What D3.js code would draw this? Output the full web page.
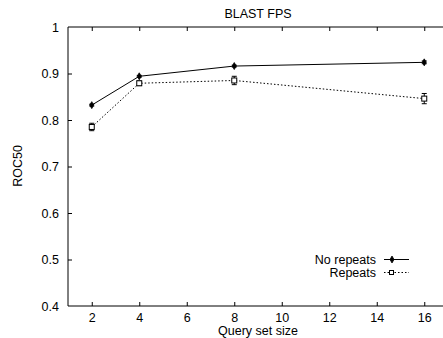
<!DOCTYPE html>
<html><head><meta charset="utf-8">
<script src="https://cdn.jsdelivr.net/npm/d3@7"></script>
<style>body{margin:0;background:#fff}svg{display:block}text{font-family:"Liberation Sans",Arial,sans-serif;}</style>
</head><body><svg id="c" width="443" height="338"></svg>
<script>
const querySizes = [2, 4, 8, 16];
const noRepeats = [0.832, 0.894, 0.916, 0.924];
const noRepeatsErr = [0.002, 0.002, 0.002, 0.003];
const repeats = [0.785, 0.879, 0.885, 0.846];
const repeatsErr = [0.008, 0.005, 0.009, 0.011];
const xTicks = [2, 4, 6, 8, 10, 12, 14, 16];
const yTicks = [0.4, 0.5, 0.6, 0.7, 0.8, 0.9, 1];

const FS = 12.5;
const svg = d3.select("#c");
const L = 68, T = 27, B = 306;
const x = d3.scaleLinear().domain([1, 17]).range([L, L + 380]);
const y = d3.scaleLinear().domain([0.4, 1]).range([B, T]);

// frame (left, top, bottom; right is outside the image)
const g = svg.append("g");
g.append("line").attr("x1", L).attr("x2", 460).attr("y1", T).attr("y2", T).attr("stroke", "#000");
g.append("line").attr("x1", L).attr("x2", 460).attr("y1", B).attr("y2", B).attr("stroke", "#000");
g.append("line").attr("x1", L).attr("x2", L).attr("y1", T).attr("y2", B).attr("stroke", "#000");

const xb = svg.append("g").attr("transform", `translate(0,${B})`)
  .call(d3.axisBottom(x).tickValues(xTicks).tickSizeInner(-4).tickSizeOuter(0).tickPadding(7));
const xt = svg.append("g").attr("transform", `translate(0,${T})`)
  .call(d3.axisTop(x).tickValues(xTicks).tickSizeInner(-4).tickSizeOuter(0).tickFormat(""));
const yl = svg.append("g").attr("transform", `translate(${L},0)`)
  .call(d3.axisLeft(y).tickValues(yTicks).tickSizeInner(-4).tickSizeOuter(0).tickPadding(9).tickFormat(d3.format("")));
[xb, xt, yl].forEach(a => { a.select(".domain").remove(); a.selectAll("text").attr("font-size", FS).attr("fill", "#000").attr("font-family", "Liberation Sans, Arial, sans-serif"); });
yl.selectAll(".tick line").filter(d => d === 1 || d === 0.4).remove();

// series
const line = d3.line();
const ptsNo = querySizes.map((q, i) => [x(q), y(noRepeats[i])]);
const ptsRe = querySizes.map((q, i) => [x(q), y(repeats[i])]);
svg.append("path").attr("d", line(ptsNo)).attr("fill", "none").attr("stroke", "#000").attr("stroke-width", 1);
svg.append("path").attr("d", line(ptsRe)).attr("fill", "none").attr("stroke", "#000").attr("stroke-width", 1).attr("stroke-dasharray", "1.5,2");

function errbar(q, v, e) {
  const cx = x(q), y1 = y(v - e), y2 = y(v + e);
  svg.append("line").attr("x1", cx).attr("x2", cx).attr("y1", y1).attr("y2", y2).attr("stroke", "#000");
  svg.append("line").attr("x1", cx - 2.5).attr("x2", cx + 2.5).attr("y1", y1).attr("y2", y1).attr("stroke", "#000");
  svg.append("line").attr("x1", cx - 2.5).attr("x2", cx + 2.5).attr("y1", y2).attr("y2", y2).attr("stroke", "#000");
}
querySizes.forEach((q, i) => errbar(q, noRepeats[i], noRepeatsErr[i]));
querySizes.forEach((q, i) => errbar(q, repeats[i], repeatsErr[i]));

const dot = d3.symbol().type(d3.symbolDiamond).size(14);
svg.selectAll(".pn").data(ptsNo).join("path").attr("transform", d => `translate(${d[0]},${d[1]})`).attr("d", dot).attr("fill", "#000").attr("stroke", "#000").attr("stroke-width", 0.8);
svg.selectAll(".pr").data(ptsRe).join("rect").attr("x", d => d[0] - 2.5).attr("y", d => d[1] - 2.5).attr("width", 5).attr("height", 5).attr("fill", "#fff").attr("stroke", "#000");

// titles
svg.append("text").attr("x", 258).attr("y", 18).attr("text-anchor", "middle").attr("font-size", FS).text("BLAST FPS");
svg.append("text").attr("x", 258).attr("y", 335).attr("text-anchor", "middle").attr("font-size", FS).text("Query set size");
svg.append("text").attr("transform", "translate(22,166) rotate(-90)").attr("text-anchor", "middle").attr("font-size", FS).text("ROC50");

// legend
const lg = svg.append("g");
lg.append("text").attr("x", 376).attr("y", 264).attr("text-anchor", "end").attr("font-size", FS).text("No repeats");
lg.append("text").attr("x", 376).attr("y", 277).attr("text-anchor", "end").attr("font-size", FS).text("Repeats");
lg.append("line").attr("x1", 384).attr("x2", 409).attr("y1", 259.5).attr("y2", 259.5).attr("stroke", "#000");
lg.append("path").attr("transform", "translate(392,259.5)").attr("d", dot).attr("fill", "#000").attr("stroke", "#000").attr("stroke-width", 0.8);
lg.append("line").attr("x1", 384).attr("x2", 409).attr("y1", 272.5).attr("y2", 272.5).attr("stroke", "#000").attr("stroke-dasharray", "1.5,2");
lg.append("rect").attr("x", 389.5).attr("y", 270.5).attr("width", 4).attr("height", 4).attr("fill", "#fff").attr("stroke", "#000");
</script></body></html>
